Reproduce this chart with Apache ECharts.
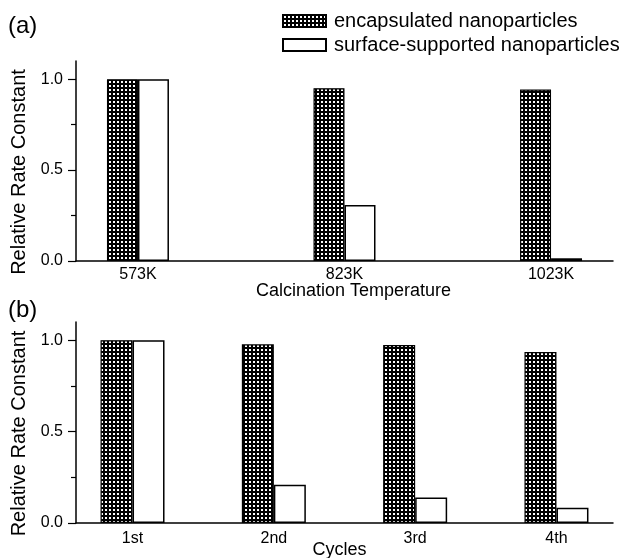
<!DOCTYPE html>
<html>
<head>
<meta charset="utf-8">
<script src="https://cdn.jsdelivr.net/npm/echarts@6/dist/echarts.min.js"></script>
<style>
  html, body { margin: 0; padding: 0; background: #fff; }
  #chart { width: 623px; height: 558px; }
</style>
</head>
<body>
<div id="chart"></div>
<script>
  // panel (a): calcination temperature
  var tempCats = ['573K', '823K', '1023K'];
  var tempEncap = [1.0, 0.95, 0.943];
  var tempSurface = [1.0, 0.308, 0.015];

  // panel (b): recycling
  var cycleCats = ['1st', '2nd', '3rd', '4th'];
  var cycleEncap = [1.0, 0.978, 0.974, 0.936];
  var cycleSurface = [1.0, 0.209, 0.139, 0.084];

  var yMajor = [0, 0.5, 1.0];
  var yMinor = [0.25, 0.75];

  var font = "'Liberation Sans', Arial, sans-serif";

  // crosshatch fill
  var pat = document.createElement('canvas');
  pat.width = 4; pat.height = 4;
  var ctx = pat.getContext('2d');
  ctx.fillStyle = '#000';
  ctx.fillRect(0, 0, 4, 4);
  ctx.fillStyle = '#fff';
  ctx.fillRect(1, 1, 2, 2);
  var hatch = { image: pat, repeat: 'repeat' };

  function pts(vals) {
    return vals.map(function (v, i) { return [i + 1, v]; });
  }

  function xAx(idx, cats, min, max, name, gap, margin, namePad) {
    return {
      type: 'value', gridIndex: idx, min: min, max: max,
      name: name, nameLocation: 'middle', nameGap: gap, nameMoveOverlap: false,
      nameTextStyle: { color: '#000', fontSize: 18, fontFamily: font, padding: namePad },
      axisLine: { lineStyle: { color: '#000', width: 1.5 } },
      axisTick: { show: false },
      splitLine: { show: false },
      axisLabel: {
        customValues: cats.map(function (c, i) { return i + 1; }),
        color: '#000', fontSize: 16, fontFamily: font, margin: margin,
        formatter: function (v) { return cats[Math.round(v) - 1]; }
      }
    };
  }

  function yAx(idx) {
    return {
      type: 'value', gridIndex: idx, min: 0, max: 1.1,
      name: 'Relative Rate Constant', nameLocation: 'middle', nameGap: 42,
      nameTextStyle: { color: '#000', fontSize: 20, fontFamily: font, padding: [0, 22, 0, 0] },
      axisLine: { show: true, lineStyle: { color: '#000', width: 1.5 } },
      axisTick: { show: true, customValues: yMajor, length: 8, lineStyle: { color: '#000', width: 1.2 } },
      splitLine: { show: false },
      axisLabel: {
        customValues: yMajor, color: '#000', fontSize: 16, fontFamily: font, margin: 13,
        formatter: function (v) { return v.toFixed(1); }
      }
    };
  }

  function yMinorAx(idx) {
    return {
      type: 'value', gridIndex: idx, min: 0, max: 1.1, position: 'left',
      axisLine: { show: false },
      axisTick: { show: true, customValues: yMinor, length: 5, lineStyle: { color: '#000', width: 1.2 } },
      axisLabel: { show: false },
      splitLine: { show: false }
    };
  }

  var encStyle = { color: hatch, borderColor: '#000', borderWidth: 1.2 };
  var surfStyle = { color: '#fff', borderColor: '#000', borderWidth: 1.5 };

  var chart = echarts.init(document.getElementById('chart'));
  chart.setOption({
    animation: false,
    backgroundColor: '#fff',
    title: [
      { text: '(a)', left: 8, top: 14, padding: 0, textStyle: { fontSize: 24, fontWeight: 'normal', color: '#000', fontFamily: font } },
      { text: '(b)', left: 8, top: 298, padding: 0, textStyle: { fontSize: 24, fontWeight: 'normal', color: '#000', fontFamily: font } }
    ],
    legend: {
      orient: 'vertical', left: 282, top: 11, padding: 0,
      itemWidth: 43, itemHeight: 12, itemGap: 4,
      icon: 'rect',
      textStyle: { fontSize: 20, color: '#000', fontFamily: font, padding: [0, 0, 0, 3] },
      data: ['encapsulated nanoparticles', 'surface-supported nanoparticles']
    },
    grid: [
      { left: 76, right: 10, top: 61, height: 200, outerBoundsMode: 'none' },
      { left: 76, right: 10, top: 322, height: 201, outerBoundsMode: 'none' }
    ],
    xAxis: [
      xAx(0, tempCats, 0.7, 3.3, 'Calcination Temperature', 21, 6, [0, 0, 0, 18]),
      xAx(1, cycleCats, 0.6, 4.4, 'Cycles', 18, 8, [0, 10, 0, 0])
    ],
    yAxis: [yAx(0), yMinorAx(0), yAx(1), yMinorAx(1)],
    series: [
      { name: 'encapsulated nanoparticles', type: 'bar', xAxisIndex: 0, yAxisIndex: 0,
        barWidth: 31, barGap: '0%', data: pts(tempEncap), itemStyle: encStyle },
      { name: 'surface-supported nanoparticles', type: 'bar', xAxisIndex: 0, yAxisIndex: 0,
        barWidth: 31, barGap: '0%', data: pts(tempSurface), itemStyle: surfStyle },
      { name: 'encapsulated nanoparticles', type: 'bar', xAxisIndex: 1, yAxisIndex: 2,
        barWidth: 32, barGap: '0%', data: pts(cycleEncap), itemStyle: encStyle },
      { name: 'surface-supported nanoparticles', type: 'bar', xAxisIndex: 1, yAxisIndex: 2,
        barWidth: 32, barGap: '0%', data: pts(cycleSurface), itemStyle: surfStyle }
    ]
  });
</script>
</body>
</html>
